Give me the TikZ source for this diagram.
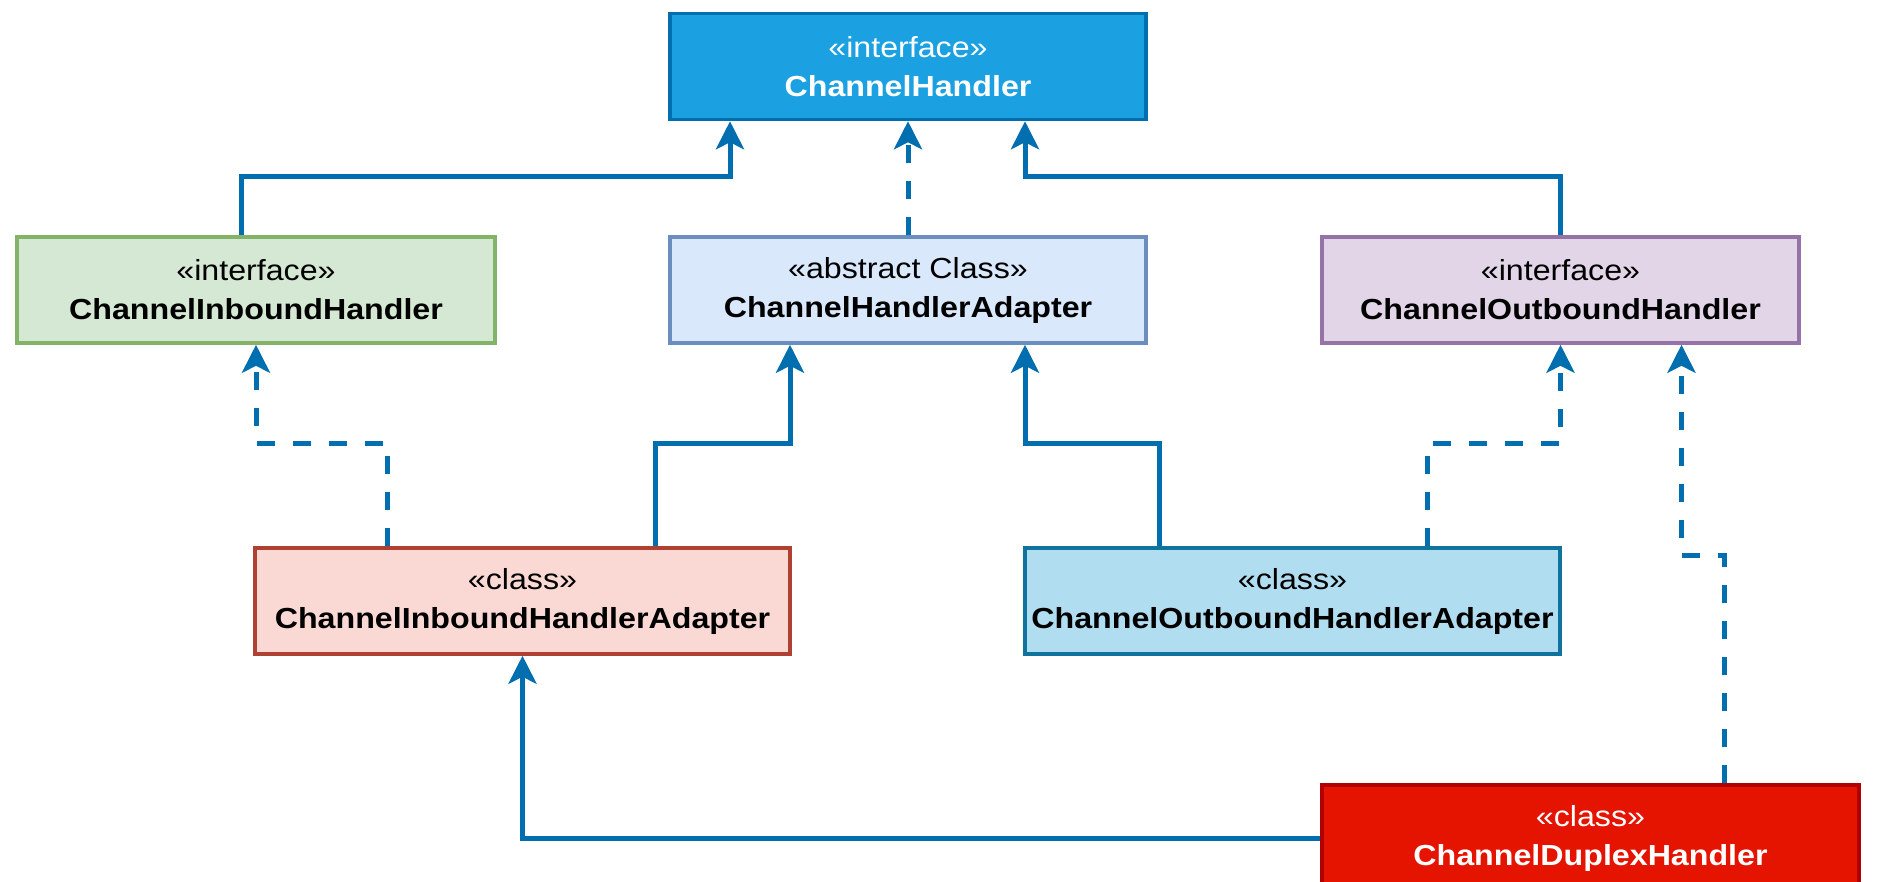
\documentclass[tikz,border=0pt]{standalone}
\usepackage{fontspec}
\setmainfont[FakeStretch=1.11]{Liberation Sans}
\usetikzlibrary{arrows.meta}
\definecolor{linea}{HTML}{006EAF}
\definecolor{chfill}{HTML}{1BA1E2}
\definecolor{chdraw}{HTML}{006EAF}
\definecolor{inbfill}{HTML}{D5E8D4}
\definecolor{inbdraw}{HTML}{82B366}
\definecolor{adfill}{HTML}{DAE8FC}
\definecolor{addraw}{HTML}{6C8EBF}
\definecolor{outfill}{HTML}{E1D5E7}
\definecolor{outdraw}{HTML}{9673A6}
\definecolor{iafill}{HTML}{FAD9D5}
\definecolor{iadraw}{HTML}{AE4132}
\definecolor{oafill}{HTML}{B1DDF0}
\definecolor{oadraw}{HTML}{10739E}
\definecolor{dupfill}{HTML}{E51400}
\definecolor{dupdraw}{HTML}{B20000}
\tikzset{
  classe/.style={draw, line width=3.5pt, rectangle, minimum height=106pt,
    align=center, inner sep=0pt,
    font=\fontsize{29}{39}\selectfont},
  eredita/.style={linea, line width=5pt,
    -{Stealth[length=28pt, width=28pt, inset=7pt]}},
  realizza/.style={eredita, dash pattern=on 18pt off 18pt},
}
\begin{document}
\begin{tikzpicture}[x=1pt, y=-1pt]
  \useasboundingbox (0,0) rectangle (1885,881);
  %prima fila
  \node[classe, fill=chfill, draw=chdraw, text=white, minimum width=476pt] (ch) at (908,66.5)
    {«interface»\\\textbf{ChannelHandler}};
  %seconda fila
  \node[classe, fill=inbfill, draw=inbdraw, minimum width=478pt] (inb) at (256,290)
    {«interface»\\\textbf{ChannelInboundHandler}};
  \node[classe, fill=adfill, draw=addraw, minimum width=476pt] (cha) at (908,290)
    {«abstract Class»\\\textbf{ChannelHandlerAdapter}};
  \node[classe, fill=outfill, draw=outdraw, minimum width=477pt] (outb) at (1560.5,290)
    {«interface»\\\textbf{ChannelOutboundHandler}};
  %terza fila
  \node[classe, fill=iafill, draw=iadraw, minimum width=535pt] (ia) at (522.5,601)
    {«class»\\\textbf{ChannelInboundHandlerAdapter}};
  \node[classe, fill=oafill, draw=oadraw, minimum width=535pt] (oa) at (1292.5,601)
    {«class»\\\textbf{ChannelOutboundHandlerAdapter}};
  %in basso
  \node[classe, fill=dupfill, draw=dupdraw, text=white, minimum width=537pt] (dup) at (1590.5,838)
    {«class»\\\textbf{ChannelDuplexHandler}};
  %frecce
  \draw[eredita] ([xshift=-15pt]inb.north) -- ++(0,-59) -| ([xshift=-178pt]ch.south);
  \draw[realizza] (cha.north) -- (ch.south);
  \draw[eredita] (outb.north) -- ++(0,-59) -| ([xshift=117pt]ch.south);
  \draw[realizza] ([xshift=-135pt]ia.north) -- ++(0,-103) -| (inb.south);
  \draw[eredita] ([xshift=133pt]ia.north) -- ++(0,-103) -| ([xshift=-118pt]cha.south);
  \draw[eredita] ([xshift=-133pt]oa.north) -- ++(0,-103) -| ([xshift=117pt]cha.south);
  \draw[realizza] ([xshift=135pt]oa.north) -- ++(0,-103) -| (outb.south);
  \draw[realizza] ([xshift=133.5pt]dup.north) -- ++(0,-228) -| ([xshift=121pt]outb.south);
  \draw[eredita] (dup.west) -| (ia.south);
\end{tikzpicture}
\end{document}
